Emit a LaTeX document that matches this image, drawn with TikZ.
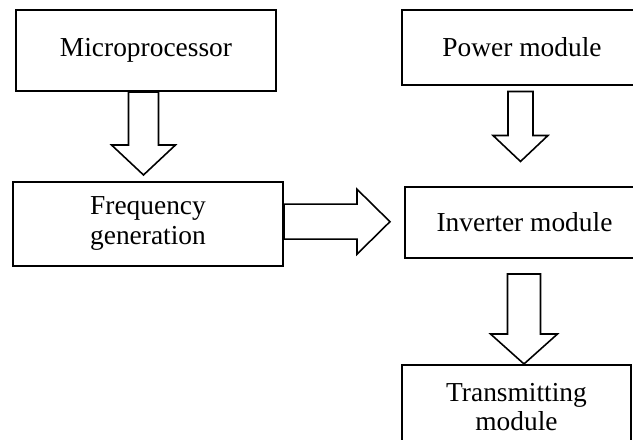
\documentclass[tikz,border=0pt]{standalone}
\usepackage{fontspec}
\setmainfont{Liberation Serif}
\usepackage{tikz}
\usetikzlibrary{calc,positioning}
\tikzset{
  box/.style    = {rectangle, draw=black, line width=1.1pt, fill=white,
                   align=center, font=\fontsize{15.6}{17}\selectfont, inner sep=2pt},
  harrow/.style = {draw=black, line width=0.9pt, fill=white, line join=miter},
}
% hollow block arrow: start, angle, length, shaft half width, head half width, head length
\newcommand{\blockarrow}[6]{%
  \draw[harrow, shift={(#1)}, rotate=#2]
    (0,-#4) -- ({#3-#6},-#4) -- ({#3-#6},-#5) -- (#3,0) -- ({#3-#6},#5)
    -- ({#3-#6},#4) -- (0,#4) -- cycle;}

\begin{document}
\begin{tikzpicture}
  \useasboundingbox (0,0) rectangle (12.66,-8.8);
  \clip (0,0) rectangle (12.66,-8.8);
  \node[box, minimum width=5.2cm, minimum height=1.62cm]  (mic)   at (2.92,-1.01)  {Microprocessor};
  \node[box, minimum width=5.4cm, minimum height=1.68cm]  (freq)  at (2.96,-4.474) {Frequency\\ generation};
  \node[box, minimum width=4.8cm, minimum height=1.5cm]   (pow)   at (10.44,-0.95) {Power module};
  \node[box, minimum width=4.78cm, minimum height=1.42cm] (inv)   at (10.49,-4.45) {Inverter module};
  \node[box, minimum width=4.58cm, minimum height=1.68cm] (trans) at (10.33,-8.14) {Transmitting\\ module};
  \blockarrow{$(mic.south)+(-0.05,0)$}{-90}{1.66}{0.3}{0.64}{0.6}
  \blockarrow{$(pow.south)+(-0.03,-0.11)$}{-90}{1.4}{0.25}{0.55}{0.52}
  \blockarrow{$(freq.east)+(0,0.04)$}{0}{2.12}{0.35}{0.65}{0.66}
  \blockarrow{$(inv.south)+(-0.01,-0.3)$}{-90}{1.8}{0.33}{0.67}{0.6}
\end{tikzpicture}
\end{document}
